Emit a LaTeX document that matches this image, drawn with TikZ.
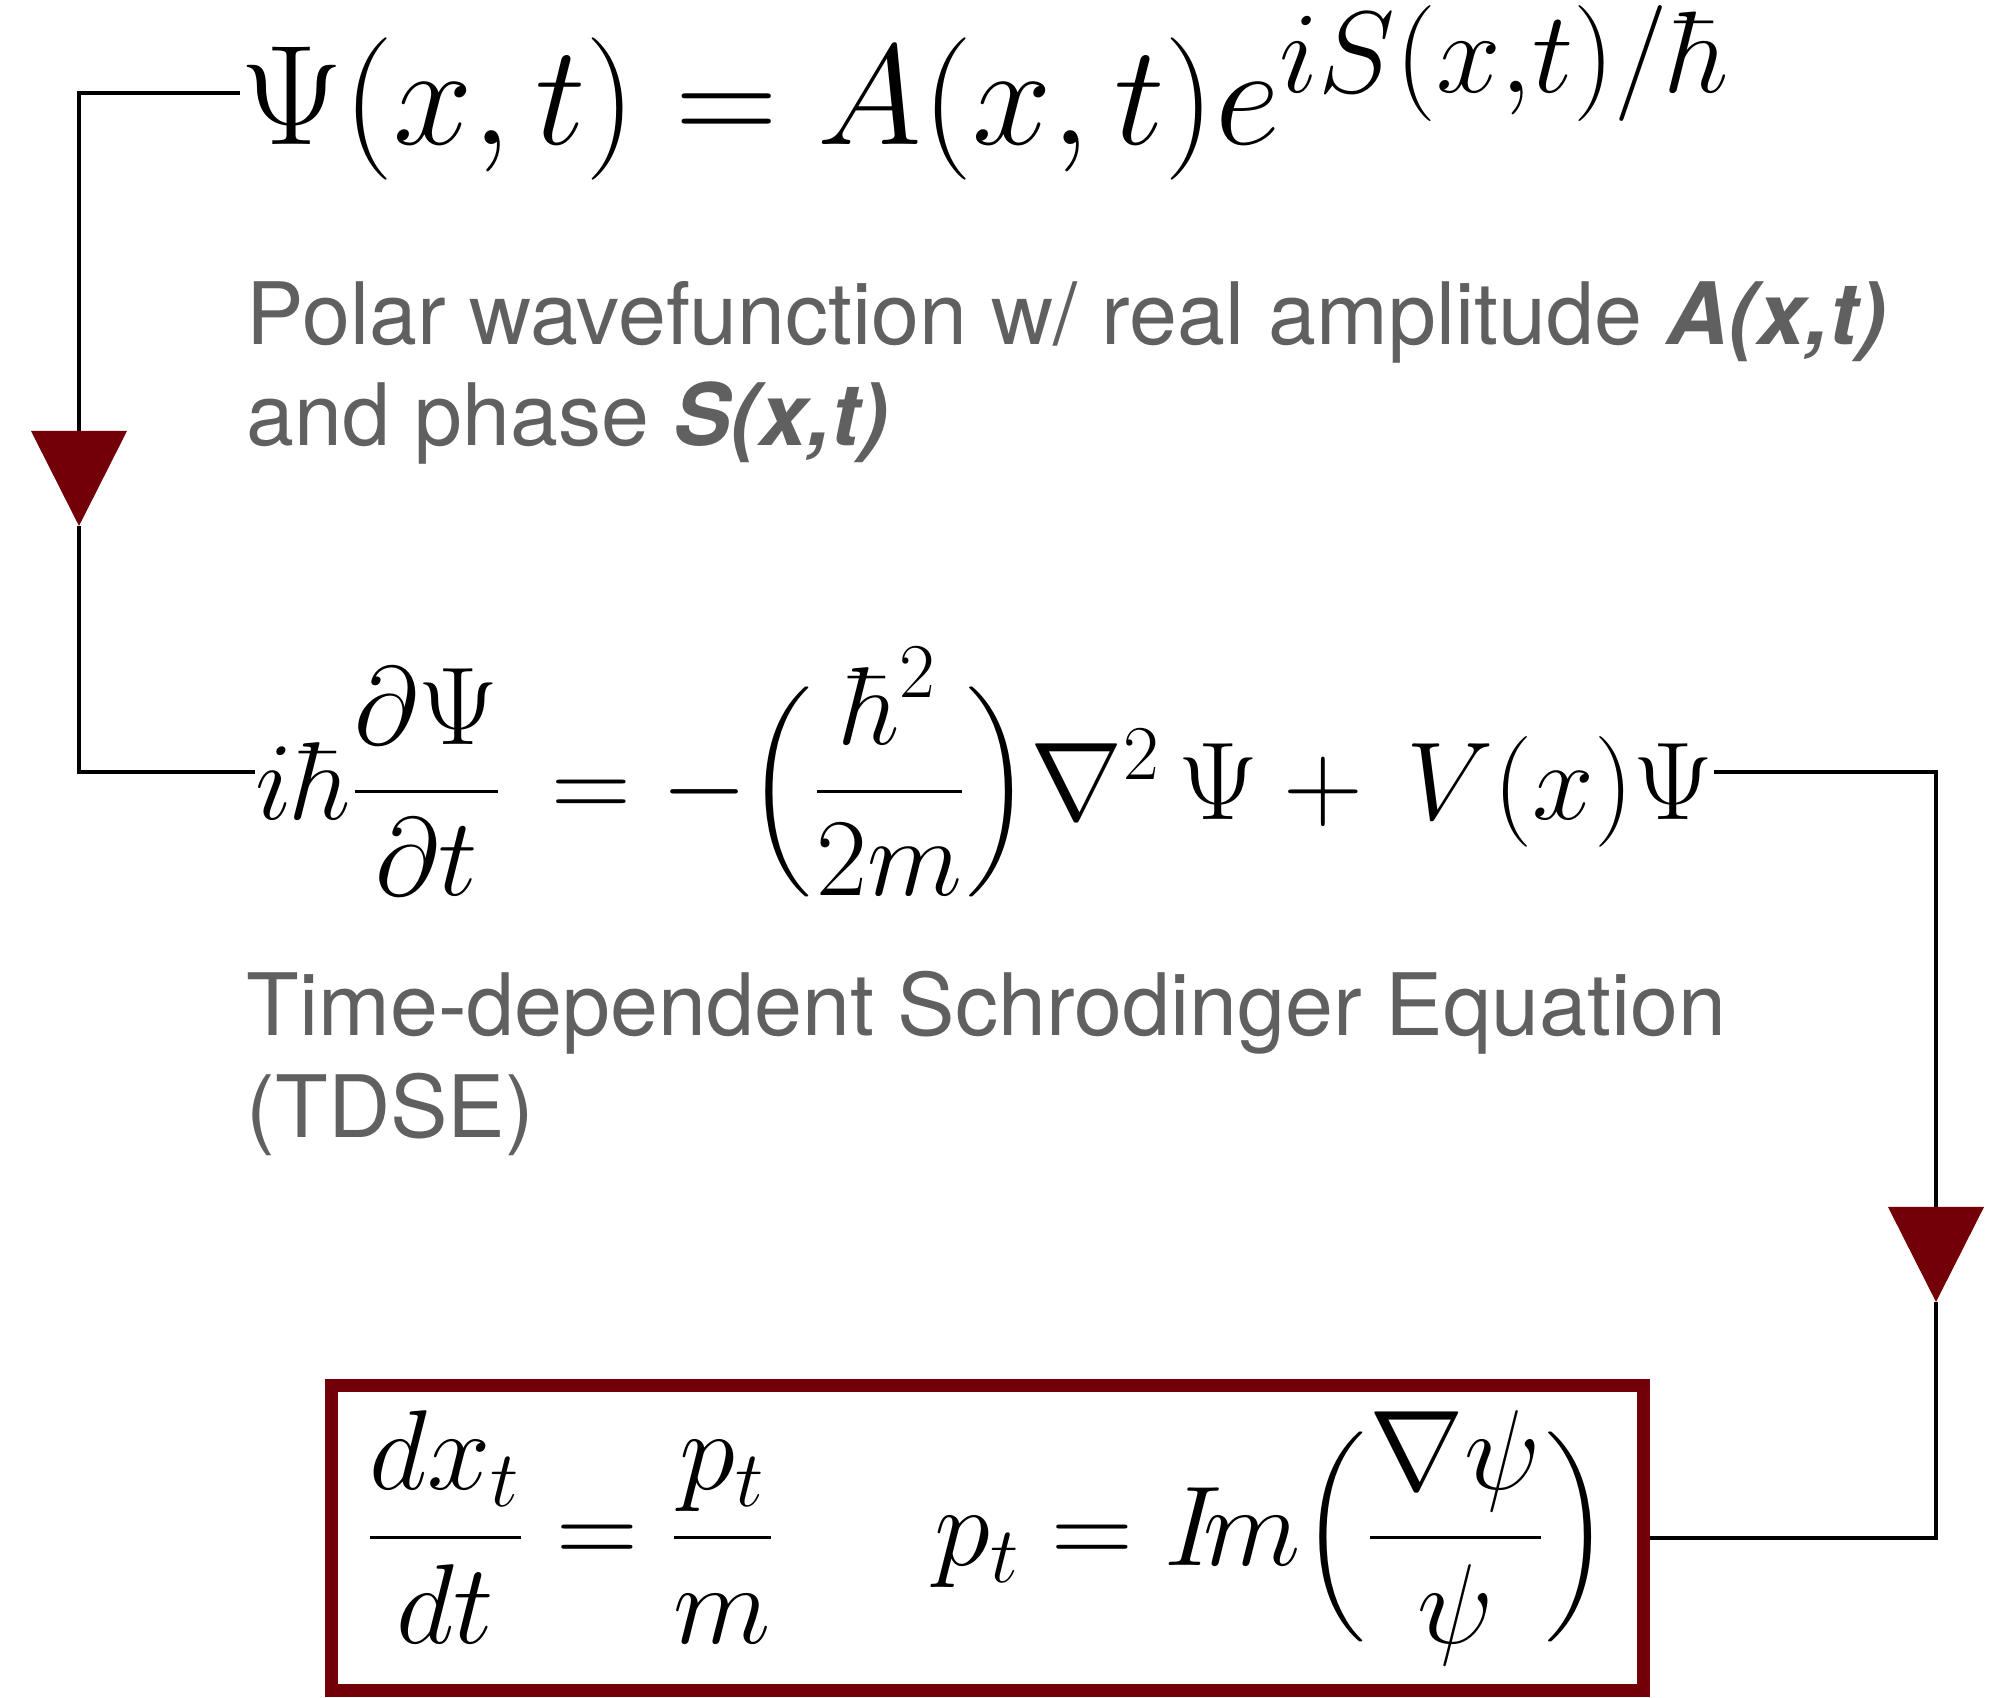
\RequirePackage{fix-cm}
\documentclass[tikz,border=0pt]{standalone}
\usepackage{amsmath}
\usepackage{fontspec}
\newfontfamily\notefont{TeX Gyre Heros}
\usetikzlibrary{arrows.meta}
\definecolor{tipred}{RGB}{115,0,8}
\definecolor{notegray}{RGB}{96,96,96}
\DeclareMathSizes{40.5}{40.5}{33}{25}

\begin{document}
\begin{tikzpicture}[x=0.01cm, y=-0.01cm,
  wire/.style={line width=0.04cm},
  pointer/.style={wire, -{Triangle[length=0.95cm, width=0.95cm, color=tipred]}},
  eq/.style={inner sep=0pt, anchor=west},
  note/.style={anchor=base west, inner sep=0pt, align=left, text=notegray,
    font=\notefont\fontsize{24.5}{29}\selectfont}]
\useasboundingbox (0,0) rectangle (1997,1698);
% Polar form
\node[eq, font=\fontsize{40.5}{48}\selectfont] (polar) at (240,93)
  {$\Psi(x,t) = A(x,t)e^{iS(x,t)/\hbar}$};
\node[note] (polarnote) at (246,446)
  {Polar wavefunction w/ real amplitude \textbf{\textit{A(x,t)}}\\and phase \textbf{\textit{S(x,t)}}};
% TDSE
\node[eq, font=\fontsize{31.5}{37}\selectfont] (tdse) at (255,772)
  {$i\hbar\dfrac{\partial\Psi}{\partial t}\, = -\Bigl(\dfrac{\hbar^2}{2m}\Bigr)\nabla^2\,\Psi +\, V(x)\Psi$};
\node[note] (tdsenote) at (246,1137)
  {Time-dependent Schrodinger Equation\\(TDSE)};
% Guidance equation
\node[draw=tipred, line width=0.13cm, minimum width=13.11cm, minimum height=3.04cm,
  inner sep=0pt, font=\fontsize{32.3}{38}\selectfont] (guide) at (987.5,1538)
  {$\displaystyle \frac{dx_t}{dt} = \frac{p_t}{m} \hspace{1.4em} p_t = I\!m\Bigl(\frac{\nabla\psi}{\psi}\Bigr)$};
% connectors
\coordinate (tipL) at (79,526);
\coordinate (tipR) at (1936,1302);
\draw[pointer] (polar.west) -| (tipL);
\draw[wire] (tipL) |- (tdse.west);
\draw[pointer] (tdse.east) -| (tipR);
\draw[wire] (tipR) |- (guide.east);
\end{tikzpicture}
\end{document}
